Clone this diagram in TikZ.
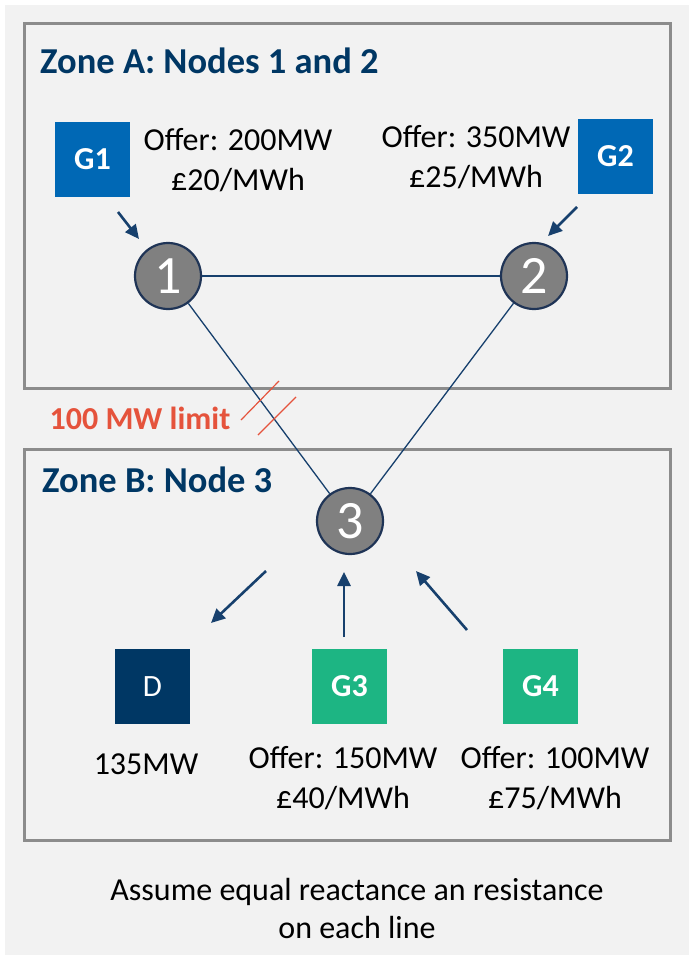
\documentclass[tikz,border=0pt]{standalone}
\usepackage{fontspec}
\setmainfont{Carlito}
\usetikzlibrary{arrows.meta}
\definecolor{bgc}{HTML}{F2F2F2}
\definecolor{framec}{HTML}{8C8C8C}
\definecolor{navy}{HTML}{003764}
\definecolor{gblue}{HTML}{0068B5}
\definecolor{ggreen}{HTML}{1DB583}
\definecolor{nodec}{HTML}{808080}
\definecolor{nodeb}{HTML}{1F3456}
\definecolor{arrc}{HTML}{17406D}
\definecolor{redc}{HTML}{E5533C}
\tikzset{
  zone/.style={draw=framec, line width=3pt},
  title/.style={anchor=west, text=navy, font=\fontsize{36.5}{40}\selectfont\bfseries, inner sep=0pt},
  bus/.style={circle, draw=nodeb, line width=2.2pt, fill=nodec, minimum size=66pt, inner sep=0pt, text=white, font=\fontsize{54}{54}\selectfont},
  unit/.style={minimum size=75pt, inner sep=0pt, text=white, font=\fontsize{32}{34}\selectfont\bfseries},
  lbl/.style={align=center, inner sep=0pt, font=\fontsize{32}{40}\selectfont},
  link/.style={draw=arrc, line width=1.3pt},
  flow/.style={draw=arrc, line width=2.6pt, -{Triangle[length=14pt,width=13pt]}},
  hatch/.style={draw=redc, line width=1.2pt},
}
\begin{document}
\begin{tikzpicture}[x=1pt,y=-1pt]
\useasboundingbox (0,0) rectangle (689,955);
\fill[white] (0,0) rectangle (689,955);
\fill[bgc] (5,5) rectangle (689,955);
\draw[zone] (24,24) rectangle (670,388);
\draw[zone] (24,449) rectangle (670,840);
\node[title] (ta) at (40,61) {Zone A: Nodes 1 and 2};
\node[title] (tb) at (42,480) {Zone B: Node 3};
% generators zone A
\node[unit, fill=gblue] (g1) at (92.5,159.5) {G1};
\node[unit, fill=gblue] (g2) at (615.5,156.5) {G2};
\node[lbl] (o1) at (238,160) {Offer: 200MW\\£20/MWh};
\node[lbl] (o2) at (476,157) {Offer: 350MW\\£25/MWh};
% buses
\node[bus] (n1) at (168,276) {1};
\node[bus] (n2) at (534,276) {2};
\node[bus] (n3) at (350,521) {3};
\draw[link] (n1) -- (n2);
\draw[link] (n1) -- (n3);
\draw[link] (n2) -- (n3);
% arrows zone A
\coordinate (a1s) at (118,212);
\coordinate (a1e) at (139,239);
\coordinate (a2s) at (577,207);
\coordinate (a2e) at (548,236);
\draw[flow] (a1s) -- (a1e);
\draw[flow] (a2s) -- (a2e);
% limit
\coordinate (h1a) at (241,420); \coordinate (h1b) at (279,381);
\coordinate (h2a) at (258,435); \coordinate (h2b) at (296,397);
\draw[hatch] (h1a) -- (h1b);
\draw[hatch] (h2a) -- (h2b);
\node[inner sep=0pt, text=redc, font=\fontsize{32}{34}\selectfont\bfseries] (lim) at (140,418) {100 MW limit};
% zone B units
\node[unit, fill=navy, font=\fontsize{31}{33}\selectfont] (d) at (152.5,686.5) {D};
\node[unit, fill=ggreen] (g3) at (349.5,686.5) {G3};
\node[unit, fill=ggreen] (g4) at (540.5,686.5) {G4};
\node[lbl] (ld) at (146,764) {135MW};
\node[lbl] (o3) at (343,778) {Offer: 150MW\\£40/MWh};
\node[lbl] (o4) at (555,778) {Offer: 100MW\\£75/MWh};
\coordinate (adS) at (266,571); \coordinate (adE) at (211,623);
\coordinate (a3S) at (344,637); \coordinate (a3E) at (344,572);
\coordinate (a4S) at (467,630); \coordinate (a4E) at (416,571);
\draw[flow] (adS) -- (adE);
\draw[flow] (a3S) -- (a3E);
\draw[flow] (a4S) -- (a4E);
\node[lbl, font=\fontsize{32}{38}\selectfont] (note) at (357,908) {Assume equal reactance an resistance\\on each line};
\end{tikzpicture}
\end{document}
